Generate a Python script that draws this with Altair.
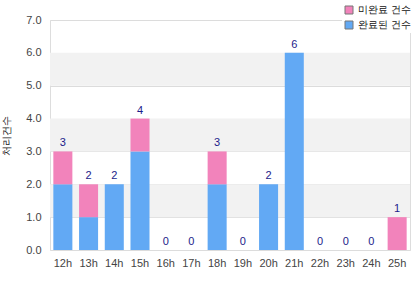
import altair as alt
import pandas as pd

# Hourly counts, split into the two stacked series
hours = ["12h", "13h", "14h", "15h", "16h", "17h", "18h", "19h",
         "20h", "21h", "22h", "23h", "24h", "25h"]
done = [2, 1, 2, 3, 0, 0, 2, 0, 2, 6, 0, 0, 0, 0]
pending = [1, 1, 0, 1, 0, 0, 1, 0, 0, 0, 0, 0, 0, 1]

series_pending = "미완료 건수"
series_done = "완료된 건수"
y_title = "처리건수"
y_ticks = [0, 1, 2, 3, 4, 5, 6, 7]

# Shaded horizontal bands behind the bars
band_from = [1, 3, 5]
band_to = [2, 4, 6]

rows = []
for h, d, p in zip(hours, done, pending):
    rows.append({"hour": h, "series": series_done, "value": d, "k": 0})
    rows.append({"hour": h, "series": series_pending, "value": p, "k": 1})
bars_df = pd.DataFrame(rows)
totals_df = pd.DataFrame({"hour": hours, "total": [d + p for d, p in zip(done, pending)]})
bands_df = pd.DataFrame({"y": band_from, "y2": band_to})

y_scale = alt.Scale(domain=[0, 7], nice=False)
x_scale = alt.Scale(domain=hours, paddingInner=0.26, paddingOuter=0.13)

y_axis = alt.Axis(title=y_title, values=y_ticks, format=".1f",
                  ticks=False, domain=False, labelPadding=9,
                  labelOverlap=False, labelFontSize=11, labelColor="#444444",
                  labelFont="Liberation Sans", gridColor="#dcdcdc",
                  titleFontSize=10, titleFontWeight="normal",
                  titleColor="#222222", titlePadding=14)
x_axis = alt.Axis(title=None, labelAngle=0, ticks=False, domain=False,
                  labelPadding=7, labelFontSize=11, labelColor="#444444",
                  labelFont="Liberation Sans")

bands = alt.Chart(bands_df).mark_rect(color="#f2f2f2").encode(
    y=alt.Y("y:Q", scale=y_scale, axis=y_axis, title=y_title),
    y2="y2:Q",
    x=alt.value(0),
    x2=alt.value(360),
)

bars = alt.Chart(bars_df).mark_bar().encode(
    x=alt.X("hour:N", scale=x_scale, sort=hours, axis=x_axis),
    y=alt.Y("value:Q", scale=y_scale, stack="zero", axis=y_axis, title=y_title),
    color=alt.Color("series:N",
                    scale=alt.Scale(domain=[series_pending, series_done],
                                    range=["#f283bb", "#62a9f4"]),
                    legend=alt.Legend(title=None, orient="none", legendX=292,
                                      legendY=-17, symbolType="square",
                                      symbolSize=64, symbolStrokeColor="#777777",
                                      symbolStrokeWidth=1, labelFontSize=10,
                                      labelColor="#111111", rowPadding=3,
                                      fillColor="white", padding=2,
                                      symbolOpacity=1)),
    order=alt.Order("k:Q", sort="ascending"),
)

labels = alt.Chart(totals_df).mark_text(
    baseline="bottom", dy=-3, fontSize=11, color="#1c1c8a", font="Liberation Sans"
).encode(
    x=alt.X("hour:N", scale=x_scale, sort=hours, axis=x_axis),
    y=alt.Y("total:Q", scale=y_scale, axis=y_axis, title=y_title),
    text="total:Q",
)

chart = alt.layer(bands, bars, labels).properties(
    width=360, height=230,
    autosize=alt.AutoSizeParams(type="none"),
    padding={"left": 50, "top": 20, "right": 10, "bottom": 50},
).configure_view(stroke="#d6d6d6").configure(background="white")

chart.save("out.html", embed_options={"renderer": "svg", "actions": False})
